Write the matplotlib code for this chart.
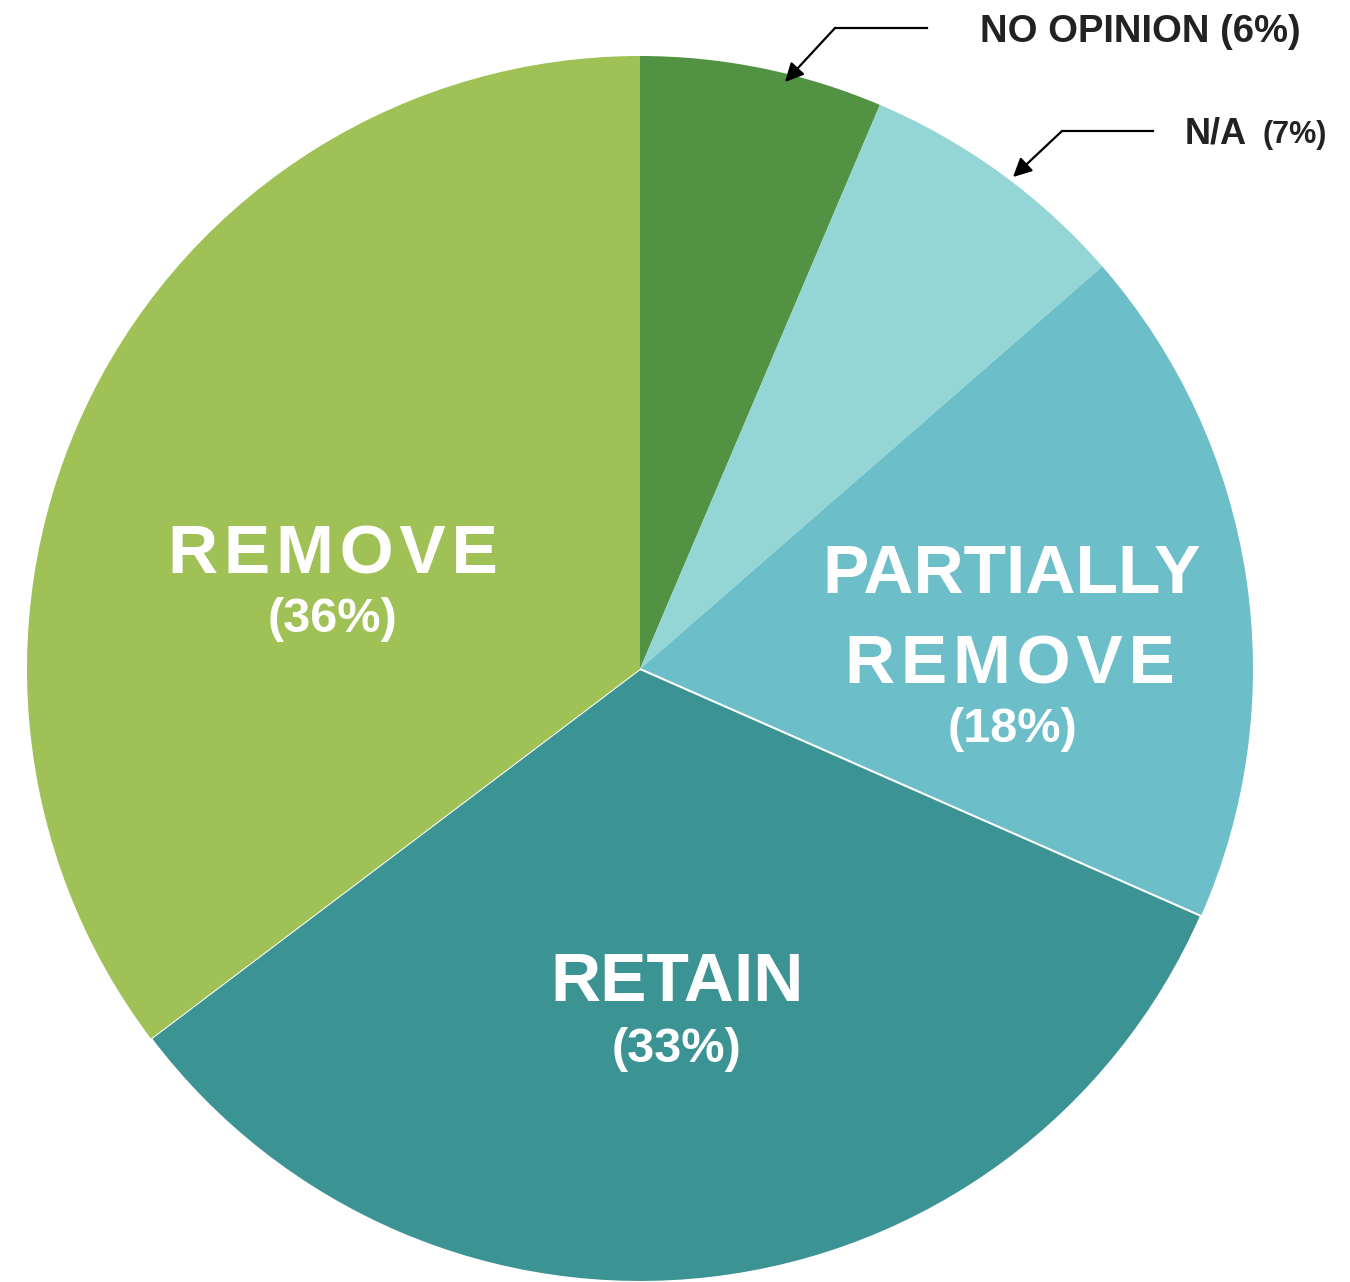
import matplotlib
matplotlib.use("Agg")
import matplotlib.pyplot as plt

# values as drawn (wedge sizes) and the printed labels
labels = ["NO OPINION", "N/A", "PARTIALLY\nREMOVE", "RETAIN", "REMOVE"]
shares = [6.4, 7.2, 18.0, 33.1, 35.3]
pct_text = ["(6%)", "(7%)", "(18%)", "(33%)", "(36%)"]
colors = ["#519342", "#94d6d5", "#6cbec8", "#3b9393", "#a0c155"]

W, H = 1350, 1282
plt.rcParams['font.family'] = ['Liberation Sans', 'DejaVu Sans']

fig = plt.figure(figsize=(W / 100, H / 100), dpi=100)
ax = fig.add_axes([0, 0, 1, 1])

def fy(y):
    # picture rows -> data y
    return H - y

def spaced(s):
    # REMOVE is set with a little letter spacing in the original
    return "\u200a".join(s)

wedges, _ = ax.pie(shares, colors=colors, startangle=90, counterclock=False,
                   center=(640, fy(669)), radius=613,
                   wedgeprops=dict(linewidth=0))
# only the retain slice has a thin white outline
wedges[3].set_edgecolor("white")
wedges[3].set_linewidth(1.5)

ax.set_xlim(0, W)
ax.set_ylim(0, H)
ax.set_aspect("equal")
ax.axis("off")

big = dict(color="white", fontsize=50, fontweight="bold", ha="center", va="baseline")
small = dict(color="white", fontsize=35, fontweight="bold", ha="center", va="baseline")

# REMOVE
ax.text(333, fy(573), spaced(labels[4]), **big)
ax.text(333, fy(632), pct_text[4], **small)
# PARTIALLY REMOVE
ax.text(1012, fy(593), "PARTIALLY", **big)
ax.text(1010, fy(683), spaced("REMOVE"), **big)
ax.text(1012, fy(742), pct_text[2], **small)
# RETAIN
ax.text(677, fy(1001), labels[3], **big)
ax.text(677, fy(1062), pct_text[3], **small)

# callouts for the two thin slices
arrow = dict(arrowstyle="-|>", color="black", lw=1.6, mutation_scale=28,
             shrinkA=0, shrinkB=0)

ax.plot([835, 927], [fy(28), fy(28)], color="black", lw=1.6)
ax.annotate("", xy=(785, fy(82)), xytext=(835, fy(28)), arrowprops=arrow)
ax.text(980, fy(42), labels[0] + " " + pct_text[0], fontsize=27.5,
        fontweight="bold", color="#222222", ha="left", va="baseline")

ax.plot([1062, 1153], [fy(131), fy(131)], color="black", lw=1.6)
ax.annotate("", xy=(1013, fy(177)), xytext=(1062, fy(131)), arrowprops=arrow)
ax.text(1185, fy(143), labels[1], fontsize=26, fontweight="bold",
        color="#222222", ha="left", va="baseline")
ax.text(1263, fy(143), pct_text[1], fontsize=22, fontweight="bold",
        color="#222222", ha="left", va="baseline")

fig.savefig("out.png", dpi=100, facecolor="white")
